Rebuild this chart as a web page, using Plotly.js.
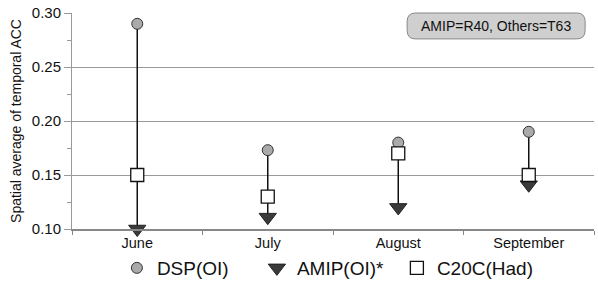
<!DOCTYPE html>
<html><head><meta charset="utf-8">
<script src="https://cdn.plot.ly/plotly-3.0.1.min.js"></script>
<style>html,body{margin:0;padding:0;background:#fff}#chart{width:598px;height:282px}</style>
</head><body><div id="chart"></div>
<script>
const months = ["June", "July", "August", "September"];
const dsp = [0.29, 0.173, 0.18, 0.19];
const amip = [0.10, 0.111, 0.12, 0.141];
const c20c = [0.15, 0.13, 0.17, 0.15];
const yTicks = [0.10, 0.15, 0.20, 0.25, 0.30];
const yTickText = ["0.10", "0.15", "0.20", "0.25", "0.30"];

const F = "Arial, 'Liberation Sans', sans-serif";
const lx = [], ly = [];
months.forEach((m, i) => { lx.push(m, m, null); ly.push(dsp[i], amip[i], null); });

const traces = [
  {x: lx, y: ly, mode: "lines", line: {color: "#111", width: 1.5}, showlegend: false, hoverinfo: "skip", cliponaxis: false},
  {x: months, y: dsp, name: "DSP(OI)", mode: "markers", cliponaxis: false,
   marker: {symbol: "circle", size: 11, color: "#aaa", line: {color: "#333", width: 1}}},
  {x: months, y: amip, name: "AMIP(OI)*", mode: "markers", cliponaxis: false,
   marker: {symbol: "triangle-down", size: 15, color: "#3a3a3a", line: {color: "#222", width: 1}}},
  {x: months, y: c20c, name: "C20C(Had)", mode: "markers", cliponaxis: false,
   marker: {symbol: "square", size: 13, color: "#fff", line: {color: "#111", width: 1.3}}}
];

// box in x/y domain fractions
const x0 = 0.642, x1 = 0.983, y0 = 0.88, y1 = 1.0, rx = 0.016, ry = 0.04;
const boxPath = `M ${x0+rx} ${y1} L ${x1-rx} ${y1} Q ${x1} ${y1} ${x1} ${y1-ry} L ${x1} ${y0+ry} Q ${x1} ${y0} ${x1-rx} ${y0} L ${x0+rx} ${y0} Q ${x0} ${y0} ${x0} ${y0+ry} L ${x0} ${y1-ry} Q ${x0} ${y1} ${x0+rx} ${y1} Z`;

const layout = {
  width: 598, height: 282,
  margin: {l: 72, r: 4, t: 13, b: 0, autoexpand: false},
  paper_bgcolor: "#fff", plot_bgcolor: "#fff",
  font: {family: F, color: "#111"},
  xaxis: {
    type: "category", categoryarray: months, range: [-0.5, 3.5],
    showgrid: false, showline: true, linecolor: "#888", linewidth: 1.5,
    ticks: "outside", tickson: "boundaries", ticklen: 4, tickcolor: "#888",
    tickfont: {size: 14.5, family: F, color: "#111"}, zeroline: false, fixedrange: true
  },
  yaxis: {
    domain: [0.197, 1],
    range: [0.10, 0.30], tickvals: yTicks, ticktext: yTickText,
    showgrid: true, gridcolor: "#999", gridwidth: 1,
    showline: true, linecolor: "#999", linewidth: 1,
    ticks: "outside", ticklen: 7, tickcolor: "#999",
    minor: {dtick: 0.025, ticks: "outside", ticklen: 4, tickcolor: "#999", showgrid: false},
    tickfont: {size: 15, family: F, color: "#111"}, zeroline: false,
    title: {text: "Spatial average of temporal ACC", font: {size: 14, family: F, color: "#111"}, standoff: 6}
  },
  legend: {orientation: "h", x: 0.086, xanchor: "left", y: 0.052, yanchor: "middle",
    bgcolor: "rgba(0,0,0,0)",
    font: {size: 19, family: F, color: "#111"}, itemwidth: 30, entrywidth: 95, traceorder: "normal"},
  shapes: [{type: "path", xref: "x domain", yref: "y domain", path: boxPath,
    fillcolor: "#cfcfcf", line: {color: "#888", width: 1}, layer: "above"}],
  annotations: [{xref: "x domain", yref: "y domain", x: (x0+x1)/2, y: (y0+y1)/2,
    xanchor: "center", yanchor: "middle",
    text: "AMIP=R40, Others=T63", showarrow: false, font: {size: 14, family: F, color: "#111"}}]
};
Plotly.newPlot("chart", traces, layout, {displayModeBar: false, staticPlot: true});
</script></body></html>
